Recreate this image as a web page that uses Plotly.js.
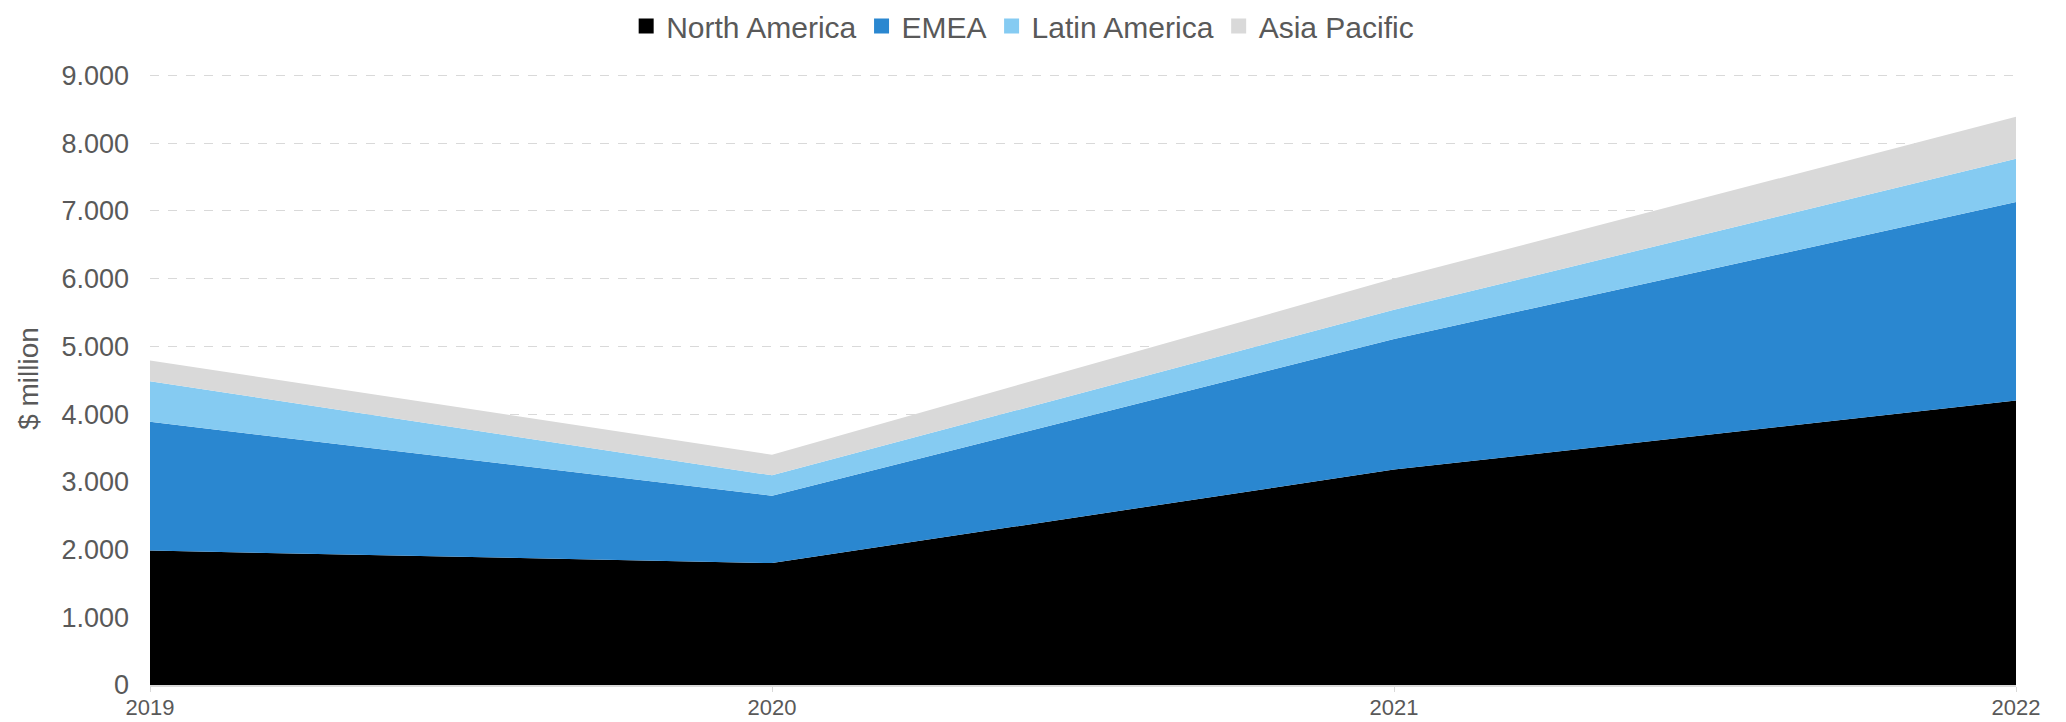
<!DOCTYPE html>
<html>
<head>
<meta charset="utf-8">
<script src="https://cdn.plot.ly/plotly-3.0.1.min.js"></script>
<style>html,body{margin:0;padding:0;background:#fff;}#chart{width:2066px;height:722px;}</style>
</head>
<body>
<div id="chart"></div>
<script>
const years = [2019, 2020, 2021, 2022];
const northAmerica = [1985, 1800, 3180, 4200];
const emea = [1900, 995, 1930, 2930];
const latinAmerica = [600, 300, 430, 640];
const asiaPacific = [305, 305, 460, 620];
const seriesNames = ['North America', 'EMEA', 'Latin America', 'Asia Pacific'];
const seriesColors = ['#000000', '#2a87d0', '#85cbf2', '#d9d9d9'];
const seriesValues = [northAmerica, emea, latinAmerica, asiaPacific];
const yTicks = [0, 1000, 2000, 3000, 4000, 5000, 6000, 7000, 8000, 9000];

const traces = [];
seriesValues.forEach((vals, i) => {
  traces.push({
    x: years, y: vals, type: 'scatter', mode: 'none',
    stackgroup: 'one', fillcolor: seriesColors[i], name: seriesNames[i],
    showlegend: false, hoverinfo: 'x+y+name'
  });
});
seriesValues.forEach((vals, i) => {
  traces.push({
    x: [null], y: [null], type: 'scatter', mode: 'markers',
    marker: {symbol: 'square', size: 15, color: seriesColors[i]},
    name: seriesNames[i], showlegend: true
  });
});

const layout = {
  width: 2066, height: 722,
  margin: {l: 150, r: 50, t: 72, b: 37},
  paper_bgcolor: '#fff', plot_bgcolor: '#fff',
  separators: ',.',
  font: {family: 'Liberation Sans, Arial, sans-serif', color: '#595959', size: 26},
  showlegend: true,
  legend: {orientation: 'h', x: 0.495, xanchor: 'center', xref: 'container',
           y: 1, yanchor: 'top', yref: 'container', traceorder: 'normal',
           font: {size: 30, color: '#595959'}, itemwidth: 30, tracegroupgap: 0},
  xaxis: {
    type: 'linear', range: [2019, 2022], tickvals: years, ticktext: years.map(String),
    showgrid: false, zeroline: false, showline: true, linecolor: '#d9d9d9', linewidth: 2,
    ticks: 'outside', ticklen: 5, tickcolor: '#d9d9d9', tickwidth: 1, ticklabelstandoff: -3,
    tickfont: {size: 22, color: '#595959'}
  },
  yaxis: {
    range: [0, 9050], tickvals: yTicks, tickformat: ',d',
    showgrid: true, gridcolor: '#d9d9d9', griddash: 'dash', gridwidth: 1,
    zeroline: false, showline: false, ticks: '', ticklen: 0, ticklabelstandoff: 20,
    tickfont: {size: 27, color: '#595959'},
    title: {text: '$ million', font: {size: 28, color: '#595959'}, standoff: 14}
  }
};
Plotly.newPlot('chart', traces, layout, {displayModeBar: false, staticPlot: true});
</script>
</body>
</html>
